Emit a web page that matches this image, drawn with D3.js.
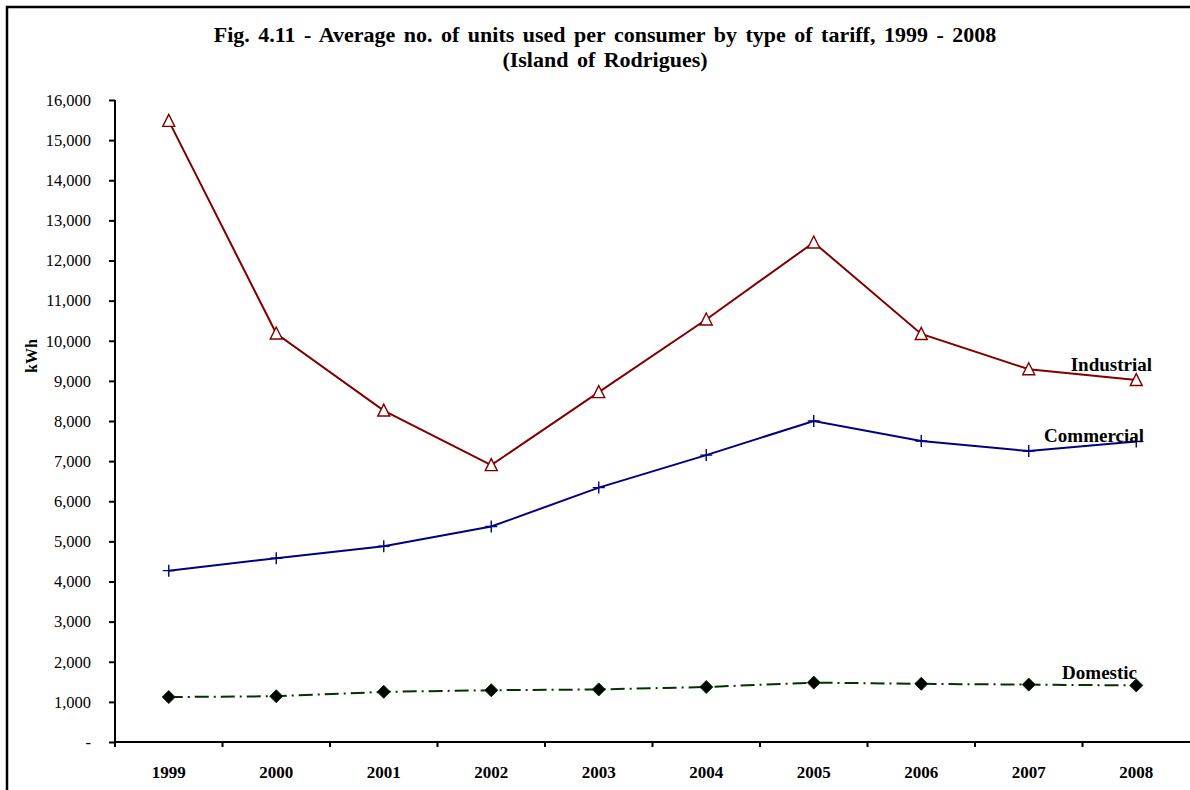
<!DOCTYPE html>
<html>
<head>
<meta charset="utf-8">
<script src="https://cdn.jsdelivr.net/npm/d3@7/dist/d3.min.js"></script>
<style>
  html, body { margin: 0; padding: 0; background: #fff; }
  svg { display: block; }
  text { font-family: "Liberation Serif", "Times New Roman", serif; }
</style>
</head>
<body>
<svg id="chart" width="1190" height="790"></svg>
<script>
// Average units used per consumer (kWh), Island of Rodrigues
const years = ["1999", "2000", "2001", "2002", "2003", "2004", "2005", "2006", "2007", "2008"];
const industrial = [15480, 10180, 8260, 6900, 8720, 10530, 12450, 10170, 9290, 9020];
const commercial = [4270, 4580, 4880, 5370, 6340, 7150, 8000, 7500, 7250, 7490];
const domestic = [1120, 1140, 1250, 1290, 1310, 1370, 1480, 1450, 1430, 1410];
const yTicks = [0, 1000, 2000, 3000, 4000, 5000, 6000, 7000, 8000, 9000, 10000, 11000, 12000, 13000, 14000, 15000, 16000];

const svg = d3.select("#chart");
const W = 1190, H = 790;
const plotLeft = 115, plotTop = 100, plotBottom = 742;
const bandW = 107.5;
const serif = "\"Liberation Serif\", \"Times New Roman\", serif";

// outer frame
svg.append("rect").attr("x", 7).attr("y", 7).attr("width", W).attr("height", H)
  .attr("fill", "none").attr("stroke", "#000").attr("stroke-width", 2.5);

const x = d3.scaleBand().domain(years).range([plotLeft, plotLeft + bandW * years.length]).padding(0);
const y = d3.scaleLinear().domain([0, 16000]).range([plotBottom, plotTop]);

// title
const title = svg.append("text").attr("text-anchor", "middle").attr("font-weight", "bold")
  .attr("font-size", 22).attr("word-spacing", 3);
title.append("tspan").attr("x", 605).attr("y", 42).text("Fig. 4.11 - Average no. of units used per consumer by type of tariff, 1999 - 2008");
title.append("tspan").attr("x", 605).attr("y", 67).text("(Island of Rodrigues)");

// y axis
const fmt = d3.format(",");
const yAxis = d3.axisLeft(y).tickValues(yTicks).tickSize(6).tickPadding(18)
  .tickFormat(d => d === 0 ? "-" : fmt(d));
const gy = svg.append("g").attr("transform", `translate(${plotLeft},0)`).call(yAxis);
gy.select(".domain").attr("stroke", "#000").attr("stroke-width", 2).attr("d", `M0,${plotTop}V${plotBottom + 5}`);
gy.selectAll(".tick line").attr("stroke-width", 2);
gy.selectAll(".tick text").attr("font-size", 16.5).attr("fill", "#000").attr("font-family", serif);

// y label
svg.append("text").attr("transform", "translate(37,356) rotate(-90)")
  .attr("text-anchor", "middle").attr("font-weight", "bold").attr("font-size", 16).text("kWh");

// x axis
const xAxis = d3.axisBottom(x).tickSize(0).tickPadding(24);
const gx = svg.append("g").attr("transform", `translate(0,${plotBottom})`).call(xAxis);
gx.select(".domain").attr("stroke", "#000").attr("stroke-width", 2).attr("d", `M${plotLeft},0H${W}`);
gx.selectAll(".tick text").attr("font-size", 17).attr("font-weight", "bold").attr("fill", "#000")
  .attr("font-family", serif);
// tick marks between categories
gx.selectAll(".bound").data(years.slice(1)).enter().append("line").attr("class", "bound")
  .attr("x1", d => x(d)).attr("x2", d => x(d)).attr("y1", 0).attr("y2", 5)
  .attr("stroke", "#000").attr("stroke-width", 2);

const cx = d => x(d) + x.bandwidth() / 2;
const line = d3.line().x((d, i) => cx(years[i])).y(d => y(d));
const place = (d, i) => `translate(${cx(years[i])},${y(d)})`;

// Industrial: solid dark red with open triangles
svg.append("path").datum(industrial).attr("d", line).attr("fill", "none")
  .attr("stroke", "#800000").attr("stroke-width", 2);
svg.selectAll(".tri").data(industrial).enter().append("path").attr("class", "tri")
  .attr("d", "M0,-6.5L6,5.5L-6,5.5Z").attr("transform", place)
  .attr("fill", "#fff").attr("stroke", "#800000").attr("stroke-width", 1.4);

// Commercial: solid navy with plus markers
svg.append("path").datum(commercial).attr("d", line).attr("fill", "none")
  .attr("stroke", "#000080").attr("stroke-width", 2);
svg.selectAll(".plus").data(commercial).enter().append("path").attr("class", "plus")
  .attr("d", "M-6,0H6M0,-6V6").attr("transform", place)
  .attr("stroke", "#000080").attr("stroke-width", 1.4).attr("fill", "none");

// Domestic: dash-dot dark green with filled diamonds
svg.append("path").datum(domestic).attr("d", line).attr("fill", "none")
  .attr("stroke", "#003300").attr("stroke-width", 2).attr("stroke-dasharray", "14,5,2,5");
svg.selectAll(".dia").data(domestic).enter().append("path").attr("class", "dia")
  .attr("d", "M0,-6.5L6.5,0L0,6.5L-6.5,0Z").attr("transform", place)
  .attr("fill", "#000").attr("stroke", "#003300").attr("stroke-width", 1);

// series labels near the last point
const labels = [
  { t: "Industrial", v: industrial[9], dy: -9, x: 1152 },
  { t: "Commercial", v: commercial[9], dy: 1, x: 1144 },
  { t: "Domestic", v: domestic[9], dy: -6, x: 1137 }
];
svg.selectAll(".lbl").data(labels).enter().append("text").attr("class", "lbl")
  .attr("x", d => d.x).attr("y", d => y(d.v) + d.dy)
  .attr("text-anchor", "end").attr("font-weight", "bold").attr("font-size", 19).text(d => d.t);
</script>
</body>
</html>
